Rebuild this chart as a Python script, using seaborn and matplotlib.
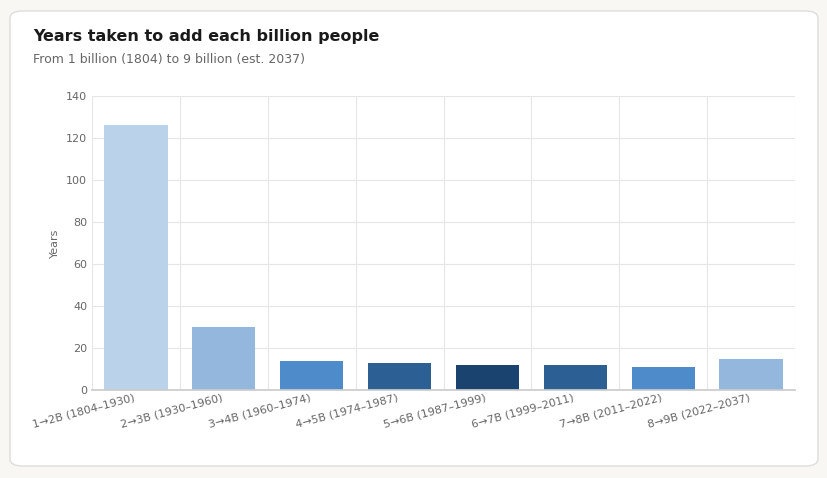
import matplotlib
matplotlib.use("Agg")
import matplotlib.pyplot as plt
import seaborn as sns
import pandas as pd
from matplotlib.patches import FancyBboxPatch

categories = ["1→2B (1804–1930)", "2→3B (1930–1960)", "3→4B (1960–1974)", "4→5B (1974–1987)",
              "5→6B (1987–1999)", "6→7B (1999–2011)", "7→8B (2011–2022)", "8→9B (2022–2037)"]
years = [126, 30, 14, 13, 12, 12, 11, 15]
colors = ["#b3d3f2", "#86b6ea", "#398ae0", "#1b5fa5", "#0c447d", "#1b5fa5", "#398ae0", "#86b6ea"]

sns.set_theme(style="white")
plt.rcParams['font.family'] = ['DejaVu Sans']
fig = plt.figure(figsize=(8.27, 4.78), dpi=100)
fig.patch.set_facecolor("#f9f7f3")
bg = fig.add_axes([0, 0, 1, 1], zorder=-10)
bg.set_axis_off()
bg.set_xlim(0, 1); bg.set_ylim(0, 1)
card = FancyBboxPatch((10/827, 12/478), 808/827, 455/478, boxstyle="round,pad=0,rounding_size=0.015",
                      transform=bg.transAxes, facecolor="white", edgecolor="#dddddd", lw=1)
bg.add_patch(card)
ax = fig.add_axes([92/827, 88/478, 703/827, 294/478])
ax.patch.set_alpha(0)
df = pd.DataFrame({"cat": categories, "years": years})
sns.barplot(data=df, x="cat", y="years", hue="cat", palette=colors, legend=False, ax=ax, width=0.72)
for p in ax.patches:
    p.set_edgecolor("none")
ax.set_ylim(0, 140)
ax.set_yticks(range(0, 141, 20))
ax.set_xlim(-0.5, 7.5)
ax.set_xticks(range(8))
ax.set_xticklabels(categories, rotation=15, ha="right", fontsize=8, color="#666666")
ax.tick_params(axis="y", labelsize=8, labelcolor="#666666", length=0)
ax.tick_params(axis="x", length=0, pad=2)
ax.set_xlabel("")
ax.set_ylabel("Years", fontsize=8, color="#666666")
for x in [i + 0.5 for i in range(-1, 8)]:
    ax.axvline(x, color="#e6e6e6", lw=0.8, zorder=0)
ax.grid(axis="y", color="#e6e6e6", lw=0.8)
ax.set_axisbelow(True)
for s in ["top", "right", "left"]:
    ax.spines[s].set_visible(False)
ax.spines["bottom"].set_color("#cccccc")
fig.text(33/827, 1 - 36/478, "Years taken to add each billion people", fontsize=11.5, fontweight="bold",
         color="#1a1a1a", va="center")
fig.text(33/827, 1 - 59/478, "From 1 billion (1804) to 9 billion (est. 2037)", fontsize=9,
         color="#666666", va="center")
fig.savefig("out.png", dpi=100, facecolor=fig.get_facecolor())
